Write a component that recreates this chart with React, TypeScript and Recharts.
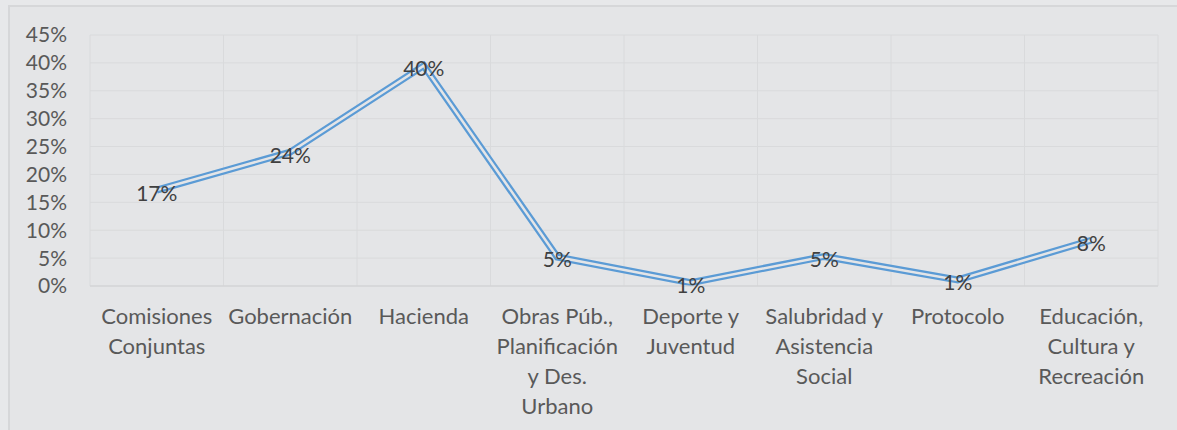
import { LineChart, Line, XAxis, YAxis, CartesianGrid, LabelList } from 'recharts';

const categories = [
    'Comisiones\nConjuntas',
    'Gobernación',
    'Hacienda',
    'Obras Púb.,\nPlanificación\ny Des.\nUrbano',
    'Deporte y\nJuventud',
    'Salubridad y\nAsistencia\nSocial',
    'Protocolo',
    'Educación,\nCultura y\nRecreación',
];
const shares = [0.172, 0.24, 0.395, 0.052, 0.006, 0.053, 0.011, 0.082];
const yTicks = [0, 0.05, 0.1, 0.15, 0.2, 0.25, 0.3, 0.35, 0.4, 0.45];
const bandEdges = [0, 1, 2, 3, 4, 5, 6, 7, 8];

const BG = '#e4e5e7';
const FONT = 'Lato, "Noto Sans", sans-serif';
const pct = (v: any) => Math.round(Number(v) * 100) + '%';

const CategoryTick = (props: any) => {
    const { x, y, payload } = props;
    const lines = String(payload.value).split('\n');
    return (
        <text x={x} y={y} textAnchor="middle" fill="#595959" fontFamily={FONT} fontSize={22}>
            {lines.map((l, i) => (
                <tspan key={i} x={x} dy={i === 0 ? 30 : 30}>{l}</tspan>
            ))}
        </text>
    );
};

export default function App() {
    const data = categories.map((name, i) => ({ name, value: shares[i], band: i + 0.5 }));

    return (
        <div style={{ position: 'absolute', left: 0, top: 0, width: 1177, height: 430, background: '#e7e8ea', overflow: 'hidden' }}>
            <div style={{ position: 'absolute', left: 8, top: 5, width: 1200, height: 450, background: BG, borderLeft: '2px solid #d6d7d9', borderTop: '2px solid #d6d7d9' }} />
            <div style={{ position: 'absolute', left: 0, top: 0 }}>
                <LineChart width={1177} height={430} data={data} margin={{ top: 35, right: 19, left: 8, bottom: 10 }}>
                    <XAxis xAxisId="grid" dataKey="band" type="number" domain={[0, 8]} ticks={bandEdges} allowDataOverflow hide />
                    <CartesianGrid xAxisId="grid" stroke="#d9dadc" strokeWidth={1} />
                    <XAxis
                        dataKey="name"
                        interval={0}
                        height={134}
                        padding={{ left: 66.75, right: 66.75 }}
                        tickLine={false}
                        axisLine={{ stroke: '#d0d1d3' }}
                        tick={<CategoryTick />}
                    />
                    <YAxis
                        width={82}
                        domain={[0, 0.45]}
                        ticks={yTicks}
                        interval={0}
                        tickFormatter={pct}
                        axisLine={false}
                        tickLine={false}
                        tickSize={0}
                        tickMargin={23}
                        tick={{ fill: '#595959', fontFamily: FONT, fontSize: 21 }}
                    />
                    <Line dataKey="value" stroke="#5b9bd5" strokeWidth={7} dot={false} isAnimationActive={false} />
                    <Line dataKey="value" stroke={BG} strokeWidth={2.5} dot={false} isAnimationActive={false}>
                        <LabelList dataKey="value" position="center" formatter={pct} fill="#404040" fontFamily={FONT} fontSize={21} dy={3} />
                    </Line>
                </LineChart>
            </div>
        </div>
    );
}
